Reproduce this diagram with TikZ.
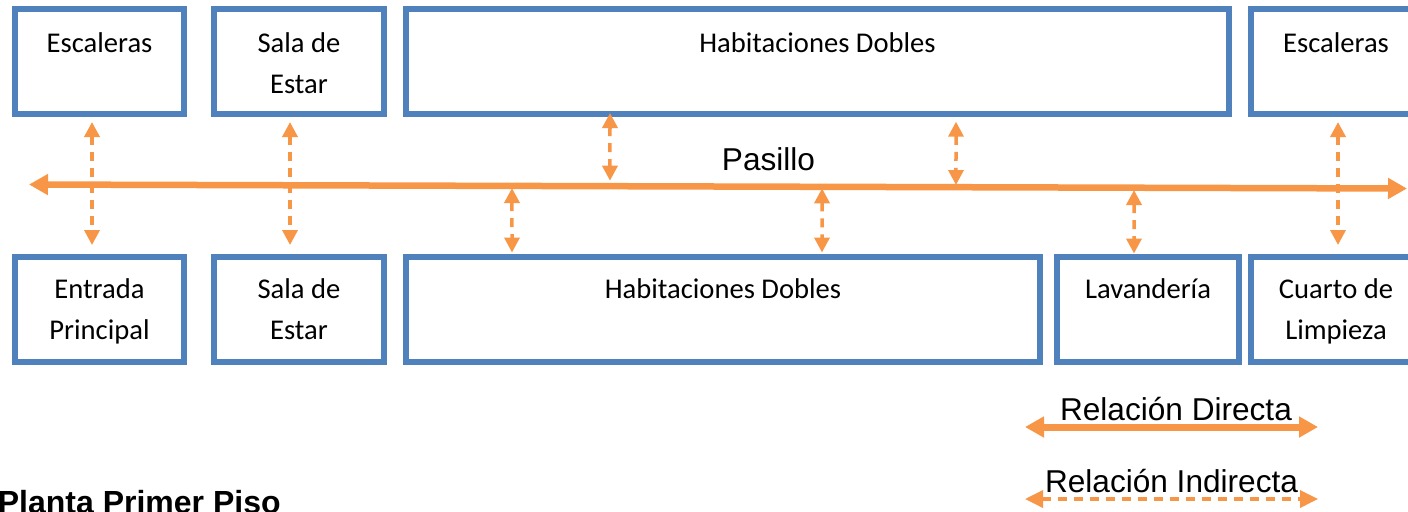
\documentclass[tikz,border=0pt]{standalone}
\usepackage{fontspec}
\setmainfont{Carlito}
\newfontfamily\arialfont{Liberation Sans}
\usepackage{xcolor}
\usetikzlibrary{positioning,calc,arrows.meta}

\definecolor{roomblue}{HTML}{4F81BD}
\definecolor{linkorange}{HTML}{F79646}

\begin{document}
\begin{tikzpicture}[
    x=0.5pt, y=-0.5pt,
    room/.style={rectangle, draw=roomblue, line width=3pt, inner sep=0pt, minimum height=52.5pt},
    lbl/.style={align=center, inner sep=0pt, font=\fontsize{14.3}{20.5}\selectfont},
    txt/.style={inner sep=0pt, font=\arialfont\fontsize{15.8}{19}\selectfont},
    direct/.style={{Triangle[length=9.5pt,width=10pt]}-{Triangle[length=9.5pt,width=10pt]}, color=linkorange, line width=3.25pt},
    indirect/.style={{Triangle[length=7.5pt,width=7.5pt]}-{Triangle[length=7.5pt,width=7.5pt]}, color=linkorange, line width=1.75pt, dash pattern=on 4.5pt off 3.5pt}
]
\useasboundingbox (0,0) rectangle (1408,511);

% Top row
\node[room, minimum width=84.5pt] (esc1) at (99.5,61.5) {};
\node[lbl, below=8.5pt of esc1.north] (esc1t) {\strut Escaleras};

\node[room, minimum width=85pt] (sala1) at (299,61.5) {};
\node[lbl, below=8.5pt of sala1.north] (sala1t) {\strut Sala de\\Estar};

\node[room, minimum width=411.5pt] (hab1) at (817.5,61.5) {};
\node[lbl, below=8.5pt of hab1.north] (hab1t) {\strut Habitaciones Dobles};

\node[room, minimum width=85pt] (esc2) at (1336,61.5) {};
\node[lbl, below=8.5pt of esc2.north] (esc2t) {\strut Escaleras};

% Bottom row
\node[room, minimum width=84.5pt] (ent) at (99.5,309.5) {};
\node[lbl, below=7.5pt of ent.north] (entt) {\strut Entrada\\Principal};

\node[room, minimum width=85pt] (sala2) at (299,309.5) {};
\node[lbl, below=7.5pt of sala2.north] (sala2t) {\strut Sala de\\Estar};

\node[room, minimum width=317pt] (hab2) at (723,309.5) {};
\node[lbl, below=7.5pt of hab2.north] (hab2t) {\strut Habitaciones Dobles};

\node[room, minimum width=91pt] (lav) at (1148,309.5) {};
\node[lbl, below=7.5pt of lav.north] (lavt) {\strut Lavandería};

\node[room, minimum width=85pt] (cua) at (1336,309.5) {};
\node[lbl, below=7.5pt of cua.north] (cuat) {\strut Cuarto de\\Limpieza};

% Corridor
\coordinate (pw) at (29,184.5);
\coordinate (pe) at (1407,188.5);
\draw[direct] (pw) -- (pe);
\node[txt, anchor=base] (pas) at (768.5,170) {Pasillo};

% Indirect relations
\draw[indirect] ($(esc1.south)+(-7.5,5)$) -- ($(ent.north)+(-7.5,-9)$);
\draw[indirect] ($(sala1.south)+(-9,5)$) -- ($(sala2.north)+(-9,-9)$);
\draw[indirect] ($(hab1.south)+(-207.5,-4)$) -- ($(pw)!0.4216!(pe)+(0,-5.5)$);
\draw[indirect] ($(hab1.south)+(138.5,4.7)$) -- ($(pw)!0.6727!(pe)+(0,-2.2)$);
\draw[indirect] ($(pw)!0.3505!(pe)+(0,2.1)$) -- ($(hab2.north)+(-211,-1.5)$);
\draw[indirect] ($(pw)!0.5755!(pe)+(0,1.5)$) -- ($(hab2.north)+(99,-1.5)$);
\draw[indirect] ($(pw)!0.8019!(pe)+(0,2.3)$) -- ($(lav.north)+(-14,-0.5)$);
\draw[indirect] ($(esc2.south)+(2,5)$) -- ($(cua.north)+(2,-9)$);

% Legend
\node[txt, anchor=base] (dir) at (1176,420) {Relación Directa};
\coordinate (dirw) at (1025,427);
\coordinate (dire) at (1318,427);
\draw[direct, line width=3.5pt] (dirw) -- (dire);

\node[txt, anchor=base] (ind) at (1171.5,492.5) {Relación Indirecta};
\coordinate (indw) at (1025,499);
\coordinate (inde) at (1318,499);
\draw[indirect, {Triangle[length=9pt,width=8.5pt]}-{Triangle[length=9pt,width=8.5pt]}] (indw) -- (inde);

% Title
\node[inner sep=0pt, anchor=base west, font=\arialfont\bfseries\fontsize{16}{19}\selectfont] (title) at (-2.5,513) {Planta Primer Piso};

\end{tikzpicture}
\end{document}
